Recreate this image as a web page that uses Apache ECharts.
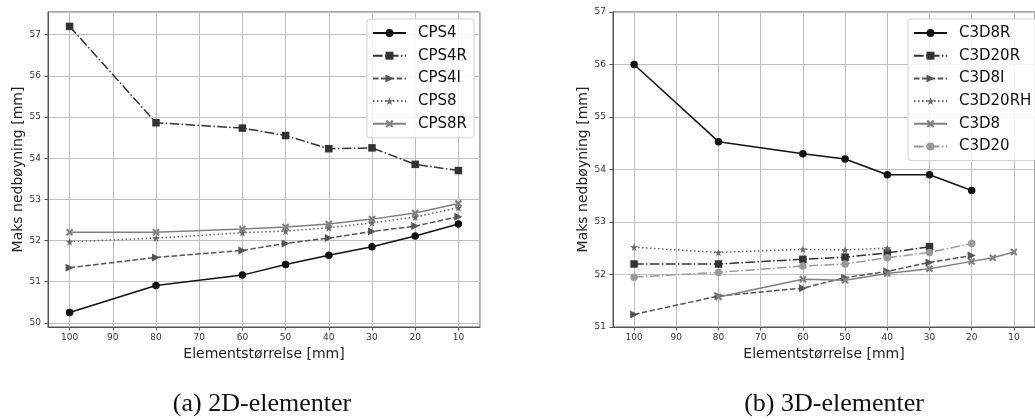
<!DOCTYPE html>
<html>
<head>
<meta charset="utf-8">
<script src="https://cdn.jsdelivr.net/npm/echarts@6/dist/echarts.min.js"></script>
<style>
html,body{margin:0;padding:0;background:#fff;}
#c{width:1035px;height:420px;}
</style>
</head>
<body>
<div id="c"></div>
<script>
// ---- data: left chart (2D elements) ----
const xLeft = [100, 80, 60, 50, 40, 30, 20, 10];
const cps4  = [50.25, 50.91, 51.16, 51.42, 51.64, 51.85, 52.11, 52.40];
const cps4r = [57.20, 54.86, 54.73, 54.55, 54.23, 54.25, 53.85, 53.70];
const cps4i = [51.34, 51.59, 51.76, 51.93, 52.06, 52.22, 52.35, 52.58];
const cps8  = [51.97, 52.06, 52.19, 52.23, 52.31, 52.43, 52.57, 52.80];
const cps8r = [52.20, 52.20, 52.28, 52.33, 52.40, 52.52, 52.67, 52.90];

// ---- data: right chart (3D elements) ----
const xC3D8R   = [100, 80, 60, 50, 40, 30, 20];
const c3d8r    = [56.00, 54.53, 54.30, 54.20, 53.90, 53.90, 53.60];
const xC3D20R  = [100, 80, 60, 50, 40, 30];
const c3d20r   = [52.20, 52.20, 52.29, 52.33, 52.41, 52.53];
const xC3D8I   = [100, 80, 60, 50, 40, 30, 20];
const c3d8i    = [51.24, 51.59, 51.74, 51.94, 52.06, 52.23, 52.36];
const xC3D20RH = [100, 80, 60, 50, 40];
const c3d20rh  = [52.52, 52.42, 52.48, 52.47, 52.50];
const xC3D8    = [80, 60, 50, 40, 30, 20, 15, 10];
const c3d8     = [51.57, 51.91, 51.89, 52.02, 52.11, 52.25, 52.32, 52.43];
const xC3D20   = [100, 80, 60, 50, 40, 30, 20];
const c3d20    = [51.95, 52.04, 52.16, 52.20, 52.32, 52.42, 52.59];

const captions = ['(a) 2D-elementer', '(b) 3D-elementer'];
const xTitle = 'Elementstørrelse [mm]';
const yTitle = 'Maks nedbøyning [mm]';

// ---- styling ----
const STAR = 'path://M50,0 L61,35 L98,35 L68,57 L79,91 L50,70 L21,91 L32,57 L2,35 L39,35 Z';
const TRI  = 'path://M0,0 L10,5 L0,10 Z';
const XMK  = 'path://M0,2 L2,0 L5,3 L8,0 L10,2 L7,5 L10,8 L8,10 L5,7 L2,10 L0,8 L3,5 Z';
const DASHDOT = [9.6, 2.4, 1.5, 2.4];
const DASHED  = [5.5, 2.4];
const DOTTED  = [1.5, 2.5];

function pairs(xs, ys){ return xs.map((x,i)=>[x, ys[i]]); }

function ser(name, idx, xs, ys, color, dash, symbol, size){
  return {
    name: name, type: 'line', xAxisIndex: idx, yAxisIndex: idx,
    data: pairs(xs, ys),
    symbol: symbol, symbolSize: size, showSymbol: true,
    animation: false,
    lineStyle: {color: color, width: 1.5, type: dash},
    itemStyle: {color: color, borderWidth: 0},
    emphasis: {disabled: true}
  };
}

function xAx(idx){
  return {
    type: 'value', gridIndex: idx, inverse: true, min: 5, max: 105,
    minInterval: 10, maxInterval: 10,
    name: xTitle, nameLocation: 'middle', nameGap: 19,
    nameTextStyle: {fontFamily: 'DejaVu Sans', fontSize: 14, color: '#222'},
    axisLine: {show: true, onZero: false, lineStyle: {color: '#555', width: 1}},
    axisTick: {show: true, length: 3.5, inside: false, lineStyle: {color: '#555'}},
    axisLabel: {fontFamily: 'DejaVu Sans', fontSize: 9, color: '#333', margin: 6,
                showMinLabel: false, showMaxLabel: false},
    splitLine: {show: true, lineStyle: {color: '#bebebe', width: 1}}
  };
}
function yAx(idx, mn, mx){
  return {
    type: 'value', gridIndex: idx, min: mn, max: mx,
    minInterval: 1, maxInterval: 1,
    name: yTitle, nameLocation: 'middle', nameGap: 23,
    nameTextStyle: {fontFamily: 'DejaVu Sans', fontSize: 14, color: '#222'},
    axisLine: {show: true, onZero: false, lineStyle: {color: '#555', width: 1}},
    axisTick: {show: true, length: 3.5, lineStyle: {color: '#555'}},
    axisLabel: {fontFamily: 'DejaVu Sans', fontSize: 9, color: '#333', margin: 7,
                showMinLabel: idx === 1, showMaxLabel: idx === 1},
    splitLine: {show: true, lineStyle: {color: '#bebebe', width: 1}}
  };
}
function leg(left, names){
  return {
    show: true, orient: 'vertical', left: left, top: 19,
    data: names, itemWidth: 33, itemHeight: 10, itemGap: 6.7,
    padding: [6, 7, 6, 5],
    backgroundColor: 'rgba(255,255,255,0.85)', borderColor: '#d0d0d0', borderWidth: 1, borderRadius: 3,
    textStyle: {fontFamily: 'DejaVu Sans', fontSize: 15, color: '#111', lineHeight: 16, padding: [0,0,0,7]},
    selectedMode: false
  };
}

const chart = echarts.init(document.getElementById('c'), null, {renderer: 'canvas'});
chart.setOption({
  backgroundColor: '#fff',
  animation: false,
  title: [
    {text: captions[0], left: 257, top: 386, textAlign: 'center',
     textStyle: {fontFamily: 'Liberation Serif', fontSize: 26, fontWeight: 'normal', color: '#111'}},
    {text: captions[1], left: 829, top: 386, textAlign: 'center',
     textStyle: {fontFamily: 'Liberation Serif', fontSize: 26, fontWeight: 'normal', color: '#111'}}
  ],
  grid: [
    {left: 48, top: 12, width: 432, height: 315, show: true, borderColor: '#555', borderWidth: 1, backgroundColor: 'transparent'},
    {left: 613, top: 12, width: 432, height: 315, show: true, borderColor: '#555', borderWidth: 1, backgroundColor: 'transparent'}
  ],
  xAxis: [xAx(0), xAx(1)],
  yAxis: [yAx(0, 49.9, 57.55), yAx(1, 51, 57)],
  legend: [
    leg(367, ['CPS4','CPS4R','CPS4I','CPS8','CPS8R']),
    leg(908, ['C3D8R','C3D20R','C3D8I','C3D20RH','C3D8','C3D20'])
  ],
  series: [
    ser('CPS4',  0, xLeft, cps4,  '#111111', 'solid', 'circle', 7.5),
    ser('CPS4R', 0, xLeft, cps4r, '#333333', DASHDOT, 'rect', 7.5),
    ser('CPS4I', 0, xLeft, cps4i, '#555555', DASHED, TRI, 8),
    ser('CPS8',  0, xLeft, cps8,  '#666666', DOTTED, STAR, 8),
    ser('CPS8R', 0, xLeft, cps8r, '#808080', 'solid', XMK, 7.5),
    ser('C3D8R',   1, xC3D8R,   c3d8r,   '#111111', 'solid', 'circle', 7.5),
    ser('C3D20R',  1, xC3D20R,  c3d20r,  '#333333', DASHDOT, 'rect', 7.5),
    ser('C3D8I',   1, xC3D8I,   c3d8i,   '#555555', DASHED, TRI, 8),
    ser('C3D20RH', 1, xC3D20RH, c3d20rh, '#666666', DOTTED, STAR, 8),
    ser('C3D8',    1, xC3D8,    c3d8,    '#808080', 'solid', XMK, 7.5),
    ser('C3D20',   1, xC3D20,   c3d20,   '#9a9a9a', DASHDOT, 'circle', 7.5)
  ]
});
</script>
</body>
</html>
